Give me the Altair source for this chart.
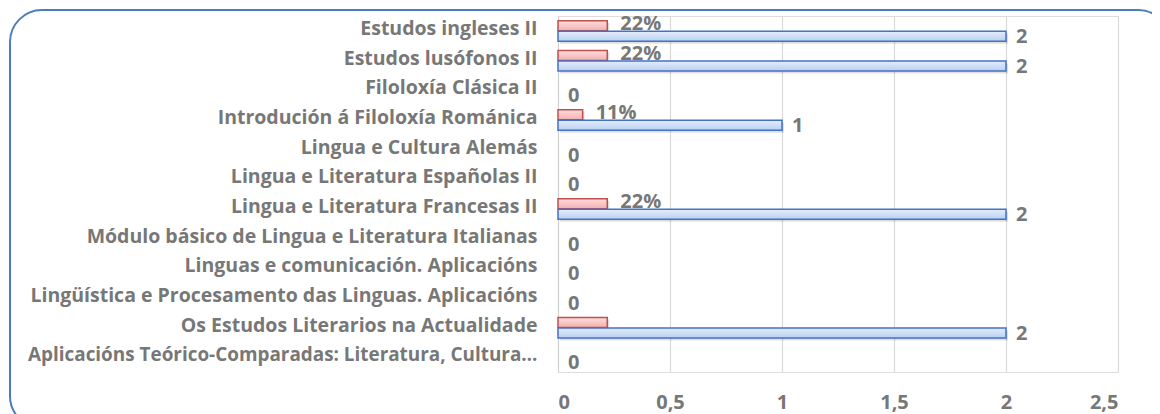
import altair as alt
import pandas as pd

categories = [
    "Estudos ingleses II",
    "Estudos lusófonos II",
    "Filoloxía Clásica II",
    "Introdución á Filoloxía Románica",
    "Lingua e Cultura Alemás",
    "Lingua e Literatura Españolas II",
    "Lingua e Literatura Francesas II",
    "Módulo básico de Lingua e Literatura Italianas",
    "Linguas e comunicación. Aplicacións",
    "Lingüística e Procesamento das Linguas. Aplicacións",
    "Os Estudos Literarios na Actualidade",
    "Aplicacións Teórico-Comparadas: Literatura, Cultura…",
]
pct = [0.22, 0.22, 0, 0.11, 0, 0, 0.22, 0, 0, 0, 0.22, 0]
counts = [2, 2, 0, 1, 0, 0, 2, 0, 0, 0, 2, 0]
pct_labels = ["22%", "22%", "", "11%", "", "", "22%", "", "", "", "", ""]
count_labels = ["2", "2", "0", "1", "0", "0", "2", "0", "0", "0", "2", "0"]
x_ticks = [0, 0.5, 1, 1.5, 2, 2.5]

df = pd.DataFrame({"cat": categories, "pct": pct, "count": counts,
                   "pl": pct_labels, "cl": count_labels})

FONT = "Open Sans"
GRAY = "#777777"

y_enc = alt.Y("cat:N", sort=categories,
              scale=alt.Scale(paddingInner=0, paddingOuter=0),
              axis=alt.Axis(title=None, labelFont=FONT,
                            labelFontSize={"condition": {"test": "indexof(datum.label, 'Cultura…') >= 0",
                                                         "value": 18.9},
                                           "value": 19.5},
                            labelFontWeight="bold", labelColor=GRAY,
                            labelPadding=21, labelOffset=-2, ticks=False,
                            domain=True, domainColor="#d0d0d0", domainWidth=1,
                            labelLimit=700))

x_scale = alt.Scale(domain=[0, 2.5], nice=False)

blue_grad = alt.Gradient(gradient="linear", x1=0, y1=0, x2=0, y2=1,
                         stops=[alt.GradientStop(color="#e3edfb", offset=0),
                                alt.GradientStop(color="#b9d0f1", offset=1)])
red_grad = alt.Gradient(gradient="linear", x1=0, y1=0, x2=0, y2=1,
                        stops=[alt.GradientStop(color="#fcdede", offset=0),
                               alt.GradientStop(color="#f3aeae", offset=1)])

base = alt.Chart(df)

red_shadow = base.transform_filter("datum.pct > 0").mark_bar(
    height=10, yOffset=-3, xOffset=2, color="#000000", opacity=0.12
).encode(x=alt.X("pct:Q", scale=x_scale,
                 axis=alt.Axis(values=x_ticks, title=None, grid=True,
                               gridColor="#d9d9d9", gridWidth=1.2,
                               domain=False, ticks=False, labelPadding=20,
                               labelFont=FONT, labelFontSize=20,
                               labelFontWeight="bold", labelColor=GRAY,
                               labelExpr="replace(toString(datum.value), '.', ',')")),
         y=y_enc)

blue_shadow = base.transform_filter("datum.count > 0").mark_bar(
    height=10, yOffset=8, xOffset=2, color="#000000", opacity=0.12
).encode(x=alt.X("count:Q", scale=x_scale), y=y_enc)

red_bar = base.transform_filter("datum.pct > 0").mark_bar(
    height=10, yOffset=-5, fill=red_grad, stroke="#c0504d", strokeWidth=1.5
).encode(x=alt.X("pct:Q", scale=x_scale), y=y_enc)

blue_bar = base.transform_filter("datum.count > 0").mark_bar(
    height=10, yOffset=5.5, fill=blue_grad, stroke="#4472c4", strokeWidth=1.5
).encode(x=alt.X("count:Q", scale=x_scale), y=y_enc)

red_text = base.mark_text(
    align="left", baseline="middle", dx=13, dy=-7, font=FONT,
    fontSize=20, fontWeight="bold", color=GRAY
).encode(x=alt.X("pct:Q", scale=x_scale), y=y_enc, text="pl:N")

blue_text = base.mark_text(
    align="left", baseline="middle", dx=10, dy=6, font=FONT,
    fontSize=20, fontWeight="bold", color=GRAY
).encode(x=alt.X("count:Q", scale=x_scale), y=y_enc, text="cl:N")

border = alt.Chart(pd.DataFrame({"a": [0]})).mark_rect(
    fill=None, fillOpacity=0, stroke="#4a7ebb", strokeWidth=2, cornerRadius=32
).encode(x=alt.value(-548), x2=alt.value(612), y=alt.value(-6), y2=alt.value(412))

chart = alt.layer(
    red_shadow, blue_shadow, red_bar, blue_bar, red_text, blue_text, border
).properties(
    width=560, height=356,
    autosize=alt.AutoSizeParams(type="none"),
    padding={"left": 550, "top": 8, "right": 34, "bottom": 42},
).configure_view(stroke=None).configure(background="white")

chart.save("out.html", embed_options={"renderer": "svg", "actions": False})
